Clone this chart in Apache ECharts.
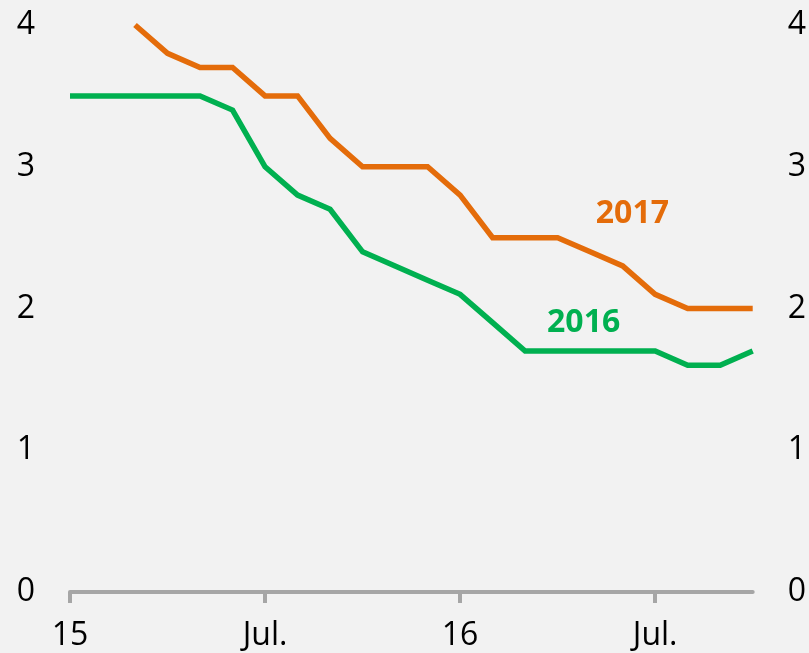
<!DOCTYPE html>
<html>
<head>
<meta charset="utf-8">
<script src="https://cdn.jsdelivr.net/npm/echarts@6/dist/echarts.min.js"></script>
<style>
  html, body { margin: 0; padding: 0; background: #f2f2f2; }
  #chart { width: 809px; height: 653px; }
</style>
</head>
<body>
<div id="chart"></div>
<script>
// months from Jan 2015 (index 0) to Oct 2016 (index 21)
const monthIndex = [0, 1, 2, 3, 4, 5, 6, 7, 8, 9, 10, 11, 12, 13, 14, 15, 16, 17, 18, 19, 20, 21];
const series2016 = [3.5, 3.5, 3.5, 3.5, 3.5, 3.4, 3.0, 2.8, 2.7, 2.4, 2.3, 2.2, 2.1, 1.9, 1.7, 1.7, 1.7, 1.7, 1.7, 1.6, 1.6, 1.7];
const series2017 = [null, null, 4.0, 3.8, 3.7, 3.7, 3.5, 3.5, 3.2, 3.0, 3.0, 3.0, 2.8, 2.5, 2.5, 2.5, 2.4, 2.3, 2.1, 2.0, 2.0, 2.0];
const xTickPos = [0, 6, 12, 18];
const xTickLabels = ['15', 'Jul.', '16', 'Jul.'];
const yTicks = [0, 1, 2, 3, 4];

const font = "'Open Sans', 'Liberation Sans', sans-serif";
const orange = '#e46c0a';
const green = '#00b050';
const grey = '#a6a6a6';

const chart = echarts.init(document.getElementById('chart'));

const pairs = vals => monthIndex.map((m, i) => [m, vals[i]]);

const yAxisBase = {
  type: 'value',
  min: yTicks[0],
  max: yTicks[yTicks.length - 1],
  interval: 1,
  axisLine: { show: false },
  axisTick: { show: false },
  splitLine: { show: false },
  axisLabel: { color: '#000', fontSize: 32, fontFamily: font, margin: 35 },
};

chart.setOption({
  backgroundColor: '#f2f2f2',
  animation: false,
  grid: { left: 70, right: 56, top: 25, bottom: 61 },
  xAxis: {
    type: 'value',
    min: 0,
    max: 21,
    splitLine: { show: false },
    axisLine: { show: true, lineStyle: { color: grey, width: 4 } },
    axisTick: {
      show: true,
      customValues: xTickPos,
      length: 11,
      lineStyle: { color: grey, width: 4 },
    },
    axisLabel: {
      customValues: xTickPos,
      color: '#000',
      fontSize: 32,
      fontFamily: font,
      margin: 28,
      formatter: v => xTickLabels[xTickPos.indexOf(v)] || '',
    },
  },
  yAxis: [
    Object.assign({}, yAxisBase, { position: 'left' }),
    Object.assign({}, yAxisBase, { position: 'right' }),
  ],
  series: [
    {
      name: '2017',
      type: 'line',
      data: pairs(series2017),
      symbol: 'none',
      lineStyle: { color: orange, width: 5.5, join: 'miter' },
      markPoint: {
        symbol: 'circle',
        symbolSize: 0,
        data: [{ coord: [17.3, 2.67], value: '2017' }],
        label: {
          show: true, position: 'inside', formatter: '2017',
          color: orange, fontSize: 32, fontWeight: 'bold', fontFamily: font,
        },
      },
    },
    {
      name: '2016',
      type: 'line',
      data: pairs(series2016),
      symbol: 'none',
      lineStyle: { color: green, width: 5.5, join: 'miter' },
      markPoint: {
        symbol: 'circle',
        symbolSize: 0,
        data: [{ coord: [15.8, 1.9], value: '2016' }],
        label: {
          show: true, position: 'inside', formatter: '2016',
          color: green, fontSize: 32, fontWeight: 'bold', fontFamily: font,
        },
      },
    },
  ],
});
</script>
</body>
</html>
